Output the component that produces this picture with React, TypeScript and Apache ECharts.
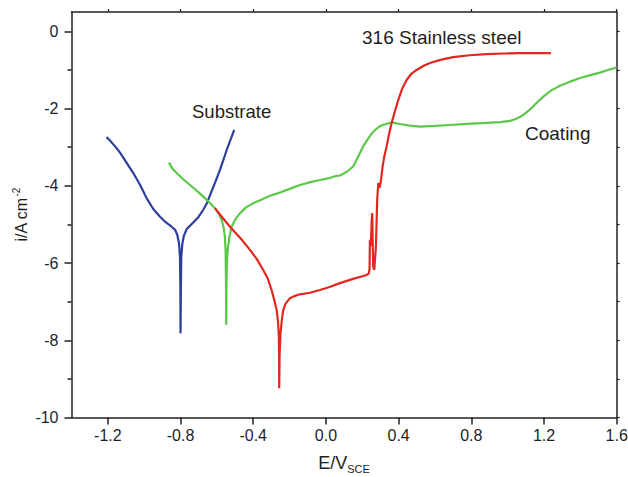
import React, { useEffect, useRef } from "react";
import * as echarts from "echarts";

const xTicks = [-1.2, -0.8, -0.4, 0.0, 0.4, 0.8, 1.2, 1.6];
const yMajorTicks = [-10, -8, -6, -4, -2, 0];
const yMinorTicks = [-9, -7, -5, -3, -1];
const yAllTicks = [-10, -9, -8, -7, -6, -5, -4, -3, -2, -1, 0];

const substrate: [number, number][] = [
  [-1.207, -2.74], [-1.19, -2.82], [-1.16, -2.98], [-1.133, -3.14], [-1.1, -3.38],
  [-1.06, -3.67], [-1.02, -4.0], [-0.987, -4.32], [-0.95, -4.6], [-0.913, -4.8],
  [-0.88, -4.95], [-0.849, -5.06], [-0.83, -5.14], [-0.818, -5.27], [-0.808, -5.5],
  [-0.803, -5.85], [-0.801, -6.6], [-0.8, -7.82], [-0.798, -6.6], [-0.796, -5.85],
  [-0.79, -5.5], [-0.782, -5.3], [-0.766, -5.12], [-0.745, -5.02], [-0.73, -4.95],
  [-0.7, -4.8], [-0.675, -4.62], [-0.655, -4.45], [-0.638, -4.25], [-0.61, -3.92],
  [-0.583, -3.59], [-0.545, -3.06], [-0.5045, -2.55],
];

const coating: [number, number][] = [
  [-0.864, -3.4], [-0.845, -3.55], [-0.8215, -3.67], [-0.785, -3.83], [-0.748, -3.98],
  [-0.705, -4.15], [-0.666, -4.32], [-0.635, -4.46], [-0.611, -4.58], [-0.59, -4.72],
  [-0.574, -4.88], [-0.562, -5.1], [-0.556, -5.32], [-0.552, -5.7], [-0.55, -6.4],
  [-0.5486, -7.6], [-0.547, -6.4], [-0.543, -5.8], [-0.538, -5.55], [-0.53, -5.3],
  [-0.519, -5.06], [-0.5, -4.88], [-0.473, -4.71], [-0.44, -4.56], [-0.4, -4.45],
  [-0.35, -4.35], [-0.308, -4.26], [-0.25, -4.17], [-0.2, -4.08], [-0.143, -3.98],
  [-0.08, -3.9], [-0.033, -3.85], [0.02, -3.8], [0.06, -3.74], [0.075, -3.74],
  [0.095, -3.69], [0.12, -3.62], [0.15, -3.5], [0.175, -3.27], [0.205, -2.98],
  [0.235, -2.76], [0.26, -2.6], [0.29, -2.48], [0.315, -2.42], [0.3615, -2.36],
  [0.407, -2.4], [0.46, -2.44], [0.517, -2.47], [0.6, -2.45], [0.7, -2.42],
  [0.8, -2.39], [0.884, -2.37], [0.96, -2.35], [1.012, -2.32], [1.045, -2.27],
  [1.067, -2.22], [1.095, -2.13], [1.122, -2.03], [1.16, -1.85], [1.196, -1.69],
  [1.24, -1.53], [1.288, -1.41], [1.34, -1.31], [1.398, -1.21], [1.45, -1.14],
  [1.508, -1.07], [1.56, -0.99], [1.599, -0.94],
];

const steel316: [number, number][] = [
  [-0.611, -4.58], [-0.57, -4.82], [-0.528, -5.06], [-0.47, -5.36], [-0.418, -5.66],
  [-0.38, -5.9], [-0.345, -6.18], [-0.32, -6.4], [-0.299, -6.7], [-0.283, -6.98],
  [-0.271, -7.22], [-0.264, -7.5], [-0.2595, -7.85], [-0.2575, -8.4], [-0.257, -9.24],
  [-0.255, -8.4], [-0.25, -7.82], [-0.242, -7.45], [-0.235, -7.22], [-0.222, -7.05],
  [-0.198, -6.91], [-0.17, -6.85], [-0.143, -6.81], [-0.088, -6.77], [-0.033, -6.7],
  [0.02, -6.62], [0.077, -6.52], [0.15, -6.41], [0.224, -6.31], [0.236, -6.27],
  [0.24, -6.15], [0.242, -5.4], [0.247, -5.55], [0.252, -4.9], [0.255, -4.71],
  [0.258, -5.6], [0.26, -6.09], [0.266, -6.18], [0.27, -5.9], [0.275, -5.58],
  [0.279, -4.9], [0.282, -4.37], [0.288, -3.93], [0.293, -4.05], [0.297, -4.02],
  [0.303, -3.85], [0.312, -3.5], [0.322, -3.22], [0.334, -2.98], [0.347, -2.67],
  [0.361, -2.38], [0.38, -2.06], [0.398, -1.78], [0.42, -1.48], [0.444, -1.26],
  [0.47, -1.1], [0.499, -1.0], [0.535, -0.9], [0.572, -0.82], [0.63, -0.74],
  [0.7, -0.67], [0.79, -0.62], [0.884, -0.59], [0.98, -0.575], [1.067, -0.565],
  [1.15, -0.565], [1.238, -0.565],
];

const FONT = "Liberation Sans, Arial, Helvetica, sans-serif";
const AXIS_COLOR = "#222";
const TEXT_COLOR = "#1e1e1e";

export default function App() {
  const ref = useRef<HTMLDivElement>(null);
  useEffect(() => {
    if (!ref.current) return;
    const chart = echarts.init(ref.current, undefined, { renderer: "svg" });
    const axisLine = { show: true, onZero: false, lineStyle: { color: AXIS_COLOR, width: 1.5 } };
    const option: any = {
      animation: false,
      backgroundColor: "#fff",
      textStyle: { fontFamily: FONT },
      grid: { left: 71.5, right: 11.3, top: 12, bottom: 59.5, containLabel: false, outerBoundsMode: "none" },
      xAxis: [
        {
          type: "value",
          position: "bottom",
          min: -1.4,
          max: 1.6,
          axisLine,
          splitLine: { show: false },
          axisTick: { show: true, customValues: xTicks, length: 7, lineStyle: { color: AXIS_COLOR, width: 1.5 } },
          axisLabel: {
            show: true,
            customValues: xTicks,
            margin: 10,
            fontSize: 16,
            color: TEXT_COLOR,
            fontFamily: FONT,
            hideOverlap: false,
            formatter: (v: number) => v.toFixed(1),
          },
          name: "{a|E/V}{b|SCE}",
          nameLocation: "middle",
          nameGap: 33,
          nameMoveOverlap: false,
          nameTextStyle: {
            fontFamily: FONT,
            color: TEXT_COLOR,
            rich: {
              a: { fontSize: 18, lineHeight: 24, fontFamily: FONT, color: TEXT_COLOR },
              b: { fontSize: 11, lineHeight: 11, verticalAlign: "bottom", fontFamily: FONT, color: TEXT_COLOR },
            },
          },
        },
        {
          type: "value",
          position: "top",
          min: -1.4,
          max: 1.6,
          axisLine,
          splitLine: { show: false },
          axisTick: { show: true, customValues: xTicks, length: 3, lineStyle: { color: AXIS_COLOR, width: 1.2 } },
          axisLabel: { show: false },
        },
      ],
      yAxis: [
        {
          type: "value",
          position: "left",
          min: -10,
          max: 0.5,
          axisLine,
          splitLine: { show: false },
          axisTick: { show: true, customValues: yMajorTicks, length: 7, lineStyle: { color: AXIS_COLOR, width: 1.5 } },
          axisLabel: {
            show: true,
            customValues: yMajorTicks,
            margin: 13,
            fontSize: 16,
            color: TEXT_COLOR,
            fontFamily: FONT,
            formatter: (v: number) => String(v),
          },
          name: "{a|i/A cm}{b|-2}",
          nameLocation: "middle",
          nameGap: 40,
          nameMoveOverlap: false,
          nameRotate: 90,
          nameTextStyle: {
            fontFamily: FONT,
            color: TEXT_COLOR,
            rich: {
              a: { fontSize: 16, lineHeight: 20, fontFamily: FONT, color: TEXT_COLOR },
              b: { fontSize: 10, lineHeight: 10, verticalAlign: "top", padding: [0, 0, 0, 1], fontFamily: FONT, color: TEXT_COLOR },
            },
          },
        },
        {
          type: "value",
          position: "left",
          min: -10,
          max: 0.5,
          axisLine: { show: false, onZero: false },
          splitLine: { show: false },
          axisTick: { show: true, customValues: yMinorTicks, length: 4, lineStyle: { color: AXIS_COLOR, width: 1.5 } },
          axisLabel: { show: false },
        },
        {
          type: "value",
          position: "right",
          min: -10,
          max: 0.5,
          axisLine,
          splitLine: { show: false },
          axisTick: { show: true, customValues: yAllTicks, length: 3, lineStyle: { color: AXIS_COLOR, width: 1.2 } },
          axisLabel: { show: false },
        },
      ],
      series: [
        {
          name: "Substrate",
          type: "line",
          xAxisIndex: 0,
          yAxisIndex: 0,
          data: substrate,
          showSymbol: false,
          symbol: "none",
          lineStyle: { color: "#2c3f9c", width: 2.2 },
        },
        {
          name: "Coating",
          type: "line",
          xAxisIndex: 0,
          yAxisIndex: 0,
          data: coating,
          showSymbol: false,
          symbol: "none",
          lineStyle: { color: "#5cc84a", width: 2.2 },
        },
        {
          name: "316 Stainless steel",
          type: "line",
          xAxisIndex: 0,
          yAxisIndex: 0,
          data: steel316,
          showSymbol: false,
          symbol: "none",
          lineStyle: { color: "#e2281e", width: 2.2 },
        },
      ],
      graphic: [
        {
          type: "text",
          x: 362,
          y: 37,
          style: { text: "316 Stainless steel", fontSize: 19, fontFamily: FONT, fill: TEXT_COLOR, textAlign: "left", textVerticalAlign: "middle" },
        },
        {
          type: "text",
          x: 192,
          y: 111,
          style: { text: "Substrate", fontSize: 18.5, fontFamily: FONT, fill: TEXT_COLOR, textAlign: "left", textVerticalAlign: "middle" },
        },
        {
          type: "text",
          x: 525,
          y: 133,
          style: { text: "Coating", fontSize: 19, fontFamily: FONT, fill: TEXT_COLOR, textAlign: "left", textVerticalAlign: "middle" },
        },
      ],
    };
    chart.setOption(option);
    return () => chart.dispose();
  }, []);
  return (
    <div
      ref={ref}
      style={{ position: "fixed", left: 0, top: 0, width: 628, height: 477, background: "#fff" }}
    />
  );
}
